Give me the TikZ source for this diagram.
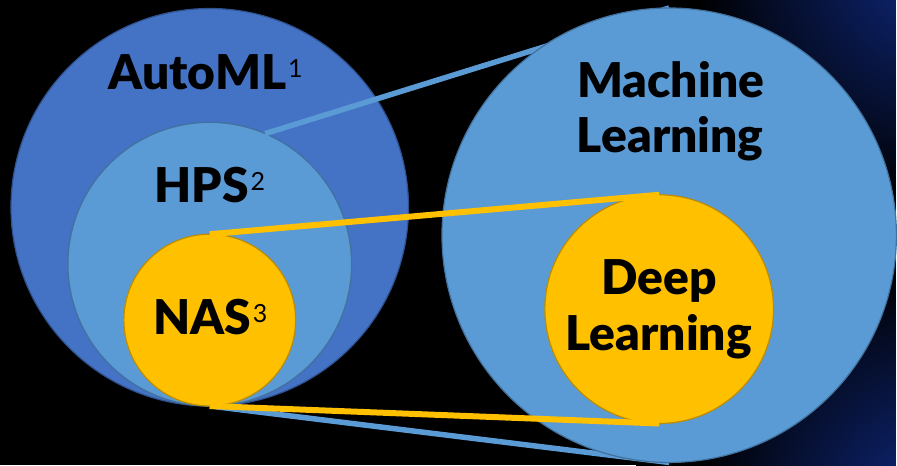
\documentclass[tikz,border=0pt]{standalone}
\usepackage{fontspec}
\setmainfont{Lato}[BoldFont={Lato Black}]
\definecolor{amlblue}{HTML}{4472C4}
\definecolor{amledge}{HTML}{2F528F}
\definecolor{mlblue}{HTML}{5B9BD5}
\definecolor{edgeblue}{HTML}{41719C}
\definecolor{dlgold}{HTML}{FFC000}
\definecolor{edgegold}{HTML}{BC8C00}
\definecolor{glow}{RGB}{12,32,100}
% navy glow fading to black, for the right-hand corners
\pgfdeclareradialshading{cornerglow}{\pgfpoint{0bp}{0bp}}{%
  color(0bp)=(glow); color(50bp)=(glow); color(240bp)=(black); color(300bp)=(black)}
% raised footnote number, regular weight
\newcommand\supnum[1]{\kern2pt\raisebox{12pt}{\fontsize{25}{25}\selectfont\mdseries #1}}
\pgfdeclarelayer{bg}
\pgfdeclarelayer{left}
\pgfdeclarelayer{links}
\pgfsetlayers{bg,left,links,main}
\tikzset{
  ring/.style={circle, inner sep=0pt, outer sep=0pt, line width=1.2pt},
  bluering/.style={ring, fill=mlblue, draw=edgeblue},
  goldring/.style={ring, fill=dlgold, draw=edgegold},
  lbl/.style={font=\fontsize{48}{55}\selectfont\bfseries, text=black, inner sep=0pt, anchor=base},
  bluelink/.style={draw=mlblue, line width=5.5pt},
  goldlink/.style={draw=dlgold, line width=6pt},
  glowspot/.style={inner sep=0pt, outer sep=0pt},
}
\begin{document}
\begin{tikzpicture}[x=1pt, y=-1pt]
\begin{pgfonlayer}{bg}
  \fill[black] (0,0) rectangle (897,466);
  \begin{scope}[blend mode=lighten]
    \clip (0,0) rectangle (897,466);
    \node[glowspot] (glow-top) at (935,-35) {\pgfuseshading{cornerglow}};
    \node[glowspot] (glow-bottom) at (935,505) {\pgfuseshading{cornerglow}};
  \end{scope}
  \useasboundingbox (0,0) rectangle (897,466);
\end{pgfonlayer}

% nested sets on the left
\begin{pgfonlayer}{left}
  \node[ring, fill=amlblue, draw=amledge, minimum size=398pt] (automl) at (210,207.5) {};
  \node[bluering, minimum size=284pt] (hps) at (210,264.5) {};
  \node[goldring, minimum size=172pt] (nas) at (210,320.5) {};
  \node[lbl] (automl-lbl) at (206,90) {AutoML\supnum{1}};
  \node[lbl] (hps-lbl) at (210,203) {HPS\supnum{2}};
  \node[lbl] (nas-lbl) at (210.5,335) {NAS\supnum{3}};
\end{pgfonlayer}

% nested sets on the right
\node[bluering, minimum size=455pt] (ml) at (670,235.5) {};
\node[goldring, minimum size=229pt] (dl) at (660,309.5) {};
\node[lbl] (ml-lbl1) at (671.5,98) {Machine};
\node[lbl] (ml-lbl2) at (671,153) {Learning};
\node[lbl] (dl-lbl1) at (660,295) {Deep};
\node[lbl] (dl-lbl2) at (659.5,351) {Learning};

% zoom lines: HPS -> Machine Learning, NAS -> Deep Learning
\begin{pgfonlayer}{links}
  \draw[bluelink] (hps.67.5) -- (ml.north);
  \draw[bluelink] (automl.south) -- (ml.south);
\end{pgfonlayer}
\draw[goldlink] (nas.north) -- (dl.north);
\draw[goldlink] (nas.south) -- (dl.south);
\end{tikzpicture}
\end{document}
